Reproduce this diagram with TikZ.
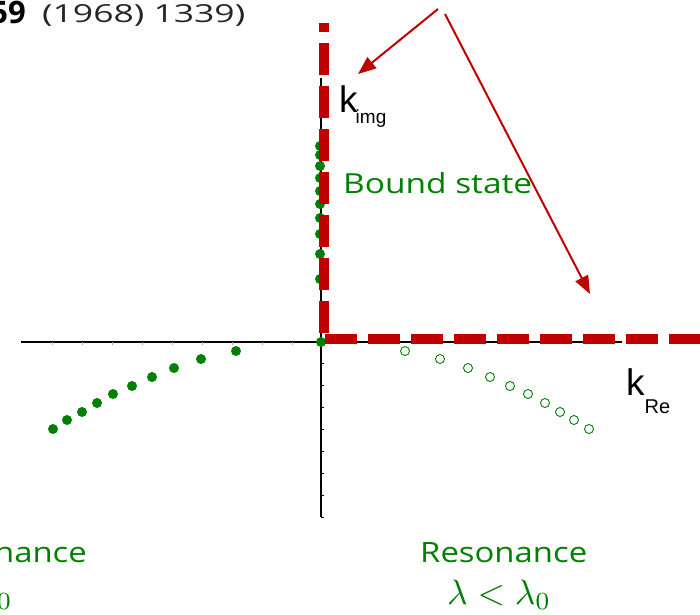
\documentclass[tikz,border=0pt]{standalone}
\usepackage[no-math]{fontspec}
\setmainfont{Open Sans}
\newfontfamily\arialf{Liberation Sans}
\usetikzlibrary{arrows.meta}
\definecolor{dred}{HTML}{C00000}
\definecolor{dgreen}{HTML}{008000}
\begin{document}
\begin{tikzpicture}[x=1pt,y=-1pt,
  axis/.style={line width=1.8pt,black},
  tickmark/.style={line width=1pt,black},
  faintick/.style={line width=0.8pt,black!35},
  reddash/.style={line width=10pt,dred,dash pattern=on 32pt off 11pt},
  redarrow/.style={line width=2pt,dred,-{Triangle[length=18pt,width=14pt]}},
  fulldot/.style={circle,fill=dgreen,inner sep=0pt,minimum size=10pt},
  opendot/.style={circle,draw=dgreen,line width=0.9pt,inner sep=0pt,minimum size=9pt},
  hand/.style={text=dgreen,inner sep=0pt},
  klabel/.style={inner sep=0pt,text=black}]
\useasboundingbox (0,0) rectangle (700,614);
\clip (0,0) rectangle (700,614);
% axes
\coordinate (hl) at (21,342); \coordinate (hr) at (622,342);
\coordinate (vt) at (321,78); \coordinate (vb) at (321,517);
\draw[axis] (hl) -- (hr);
\draw[axis] (vt) -- (vb);
\foreach \y in {363,385,407,429,451,473,495,517} \draw[tickmark] (321,\y) -- (324,\y);
\foreach \x in {52,82,...,292} \draw[faintick] (\x,342) -- (\x,345);
% bound state dots on imaginary axis
\foreach \y [count=\i] in {146,155,166,178,191,204,218,234,254,279}
  \node[fulldot] (v\i) at (320,\y) {};
\node[fulldot] (orig) at (321,342) {};
% left filled dots
\foreach \x/\y [count=\i] in {53/429,67/420,82/412,97/403,113/394,132/386,152/377,174/368,201/359,236/351}
  \node[fulldot] (l\i) at (\x,\y) {};
% right open circles
\foreach \x/\y [count=\i] in {405/351,440/359,468/368,490/377,510/386,528/394,545/403,560/412,574/420,589/429}
  \node[opendot] (r\i) at (\x,\y) {};
% red dashed boundary
\coordinate (cv) at (324,333); \coordinate (ct) at (324,23);
\coordinate (ch) at (325,339); \coordinate (cr) at (705,339);
\draw[reddash] (cv) -- (ct);
\draw[reddash] (ch) -- (cr);
% axis labels
\node[klabel,anchor=base west] (kimg) at (339,112)
  {\arialf\fontsize{37}{37}\selectfont k\kern-2pt\raisebox{-11pt}{\fontsize{19}{19}\selectfont img}};
\node[klabel,anchor=base west] (kre) at (626,395)
  {\arialf\fontsize{37}{37}\selectfont k\raisebox{-18pt}{\fontsize{20}{20}\selectfont Re}};
% texts
\node[hand,anchor=base west] (bound) at (343,193)
  {\resizebox{189pt}{21pt}{\fontsize{28}{28}\selectfont Bound state}};
\node[hand,anchor=base west] (resR) at (420,562)
  {\resizebox{167pt}{20pt}{\fontsize{28}{28}\selectfont Resonance}};
\node[hand,anchor=base west] (lamR) at (447,604)
  {\resizebox{104pt}{!}{$\lambda < \lambda_0$}};
\node[hand,anchor=base east] (resL) at (87,562)
  {\resizebox{167pt}{20pt}{\fontsize{28}{28}\selectfont Resonance}};
\node[hand,anchor=base east] (lamL) at (13,604)
  {\resizebox{104pt}{!}{$\lambda > \lambda_0$}};
\node[inner sep=0pt,anchor=base east] (ref59) at (26,23)
  {\fontsize{31}{31}\selectfont\bfseries 59};
\node[inner sep=0pt,anchor=base west,text=black!85] (refyr) at (42,22)
  {\resizebox{203pt}{18pt}{\fontsize{24}{24}\selectfont (1968) 1339)}};
% arrows
\coordinate (a1s) at (438,9); \coordinate (a1e) at (358,74);
\coordinate (a2s) at (445,14); \coordinate (a2e) at (590,294);
\draw[redarrow] (a1s) -- (a1e);
\draw[redarrow] (a2s) -- (a2e);
\end{tikzpicture}
\end{document}
